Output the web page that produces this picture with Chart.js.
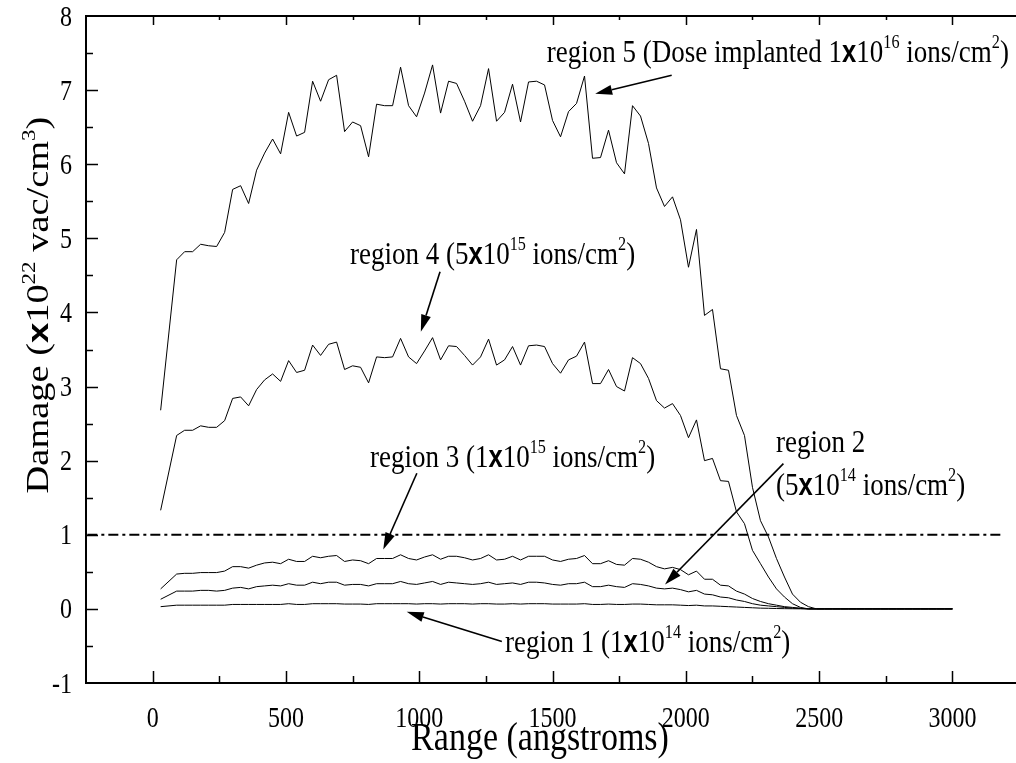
<!DOCTYPE html>
<html>
<head>
<meta charset="utf-8">
<script src="https://cdn.jsdelivr.net/npm/chart.js@4.4.0/dist/chart.umd.min.js"></script>
<style>
  html, body { margin: 0; padding: 0; background: #fff; overflow: hidden; }
  #wrap { width: 1040px; height: 763px; }
</style>
</head>
<body>
<div id="wrap"><canvas id="myChart" width="1040" height="763"></canvas></div>
<script>
// depth in angstroms (x values shared by every region)
const depth = [
  30, 90, 120, 150, 180, 210, 240, 270, 300, 330,
  360, 390, 420, 450, 480, 510, 540, 570, 600, 630,
  660, 690, 720, 750, 780, 810, 840, 870, 900, 930,
  960, 990, 1020, 1050, 1080, 1110, 1140, 1170, 1200, 1230,
  1260, 1290, 1320, 1350, 1380, 1410, 1440, 1470, 1500, 1530,
  1560, 1590, 1620, 1650, 1680, 1710, 1740, 1770, 1800, 1830,
  1860, 1890, 1920, 1950, 1980, 2010, 2040, 2070, 2100, 2130,
  2160, 2190, 2220, 2250, 2280, 2310, 2340, 2370, 2400, 2430,
  2460, 2490, 2520, 2550, 2580, 2610, 2640, 2670, 2700, 2730,
  2760, 2790, 2820, 2850, 2880, 2910, 2940, 2970, 3000
];

// damage, x10^22 vac/cm^3
const region5 = [
  2.68, 4.71, 4.82, 4.82, 4.92, 4.90, 4.89, 5.08, 5.66, 5.71,
  5.47, 5.92, 6.15, 6.34, 6.14, 6.70, 6.38, 6.43, 7.12, 6.85,
  7.14, 7.20, 6.44, 6.57, 6.52, 6.10, 6.81, 6.79, 6.79, 7.31,
  6.79, 6.64, 6.96, 7.34, 6.69, 7.12, 7.09, 6.85, 6.58, 6.79,
  7.29, 6.58, 6.70, 7.08, 6.57, 7.11, 7.12, 7.07, 6.59, 6.37,
  6.71, 6.82, 7.19, 6.08, 6.09, 6.46, 6.02, 5.87, 6.79, 6.65,
  6.28, 5.68, 5.43, 5.56, 5.25, 4.61, 5.12, 3.96, 4.04, 3.24,
  3.22, 2.61, 2.34, 1.64, 1.19, 0.97, 0.68, 0.43, 0.20, 0.09,
  0.03, 0, 0, 0, 0, 0, 0, 0, 0, 0,
  0, 0, 0, 0, 0, 0, 0, 0, 0
];
const region4 = [
  1.33, 2.34, 2.41, 2.41, 2.47, 2.45, 2.45, 2.54, 2.84, 2.86,
  2.74, 2.96, 3.09, 3.17, 3.07, 3.35, 3.19, 3.22, 3.56, 3.42,
  3.57, 3.60, 3.23, 3.28, 3.26, 3.05, 3.40, 3.39, 3.40, 3.65,
  3.40, 3.31, 3.48, 3.66, 3.36, 3.55, 3.54, 3.42, 3.29, 3.40,
  3.64, 3.29, 3.36, 3.54, 3.29, 3.55, 3.56, 3.54, 3.31, 3.18,
  3.36, 3.41, 3.60, 3.04, 3.04, 3.23, 3.00, 2.94, 3.39, 3.31,
  3.11, 2.81, 2.71, 2.77, 2.61, 2.31, 2.55, 2.00, 2.03, 1.73,
  1.72, 1.31, 1.15, 0.79, 0.61, 0.43, 0.27, 0.16, 0.07, 0.02,
  0, 0, 0, 0, 0, 0, 0, 0, 0, 0,
  0, 0, 0, 0, 0, 0, 0, 0, 0
];
const region3 = [
  0.27, 0.47, 0.48, 0.48, 0.49, 0.49, 0.49, 0.51, 0.57, 0.57,
  0.55, 0.59, 0.62, 0.63, 0.61, 0.67, 0.64, 0.64, 0.71, 0.69,
  0.71, 0.72, 0.64, 0.66, 0.65, 0.61, 0.68, 0.68, 0.68, 0.73,
  0.68, 0.66, 0.70, 0.73, 0.67, 0.71, 0.71, 0.69, 0.66, 0.68,
  0.73, 0.66, 0.67, 0.71, 0.66, 0.71, 0.71, 0.71, 0.66, 0.64,
  0.67, 0.68, 0.72, 0.61, 0.61, 0.65, 0.60, 0.59, 0.68, 0.67,
  0.63, 0.57, 0.54, 0.56, 0.53, 0.46, 0.51, 0.40, 0.40, 0.32,
  0.31, 0.24, 0.20, 0.14, 0.10, 0.07, 0.05, 0.03, 0.02, 0.01,
  0, 0, 0, 0, 0, 0, 0, 0, 0, 0,
  0, 0, 0, 0, 0, 0, 0, 0, 0
];
const region2 = [
  0.13, 0.24, 0.24, 0.24, 0.25, 0.25, 0.24, 0.25, 0.28, 0.29,
  0.27, 0.30, 0.31, 0.32, 0.31, 0.34, 0.32, 0.32, 0.36, 0.34,
  0.36, 0.36, 0.32, 0.33, 0.33, 0.31, 0.34, 0.34, 0.34, 0.37,
  0.34, 0.33, 0.35, 0.37, 0.33, 0.36, 0.35, 0.34, 0.33, 0.34,
  0.36, 0.33, 0.34, 0.35, 0.33, 0.36, 0.36, 0.35, 0.33, 0.32,
  0.34, 0.34, 0.36, 0.30, 0.30, 0.32, 0.30, 0.29, 0.34, 0.33,
  0.31, 0.28, 0.27, 0.28, 0.26, 0.23, 0.25, 0.20, 0.19, 0.16,
  0.15, 0.12, 0.10, 0.07, 0.05, 0.04, 0.03, 0.02, 0.01, 0.005,
  0, 0, 0, 0, 0, 0, 0, 0, 0, 0,
  0, 0, 0, 0, 0, 0, 0, 0, 0
];
const region1 = [
  0.03, 0.05, 0.05, 0.05, 0.05, 0.05, 0.05, 0.05, 0.06, 0.06,
  0.06, 0.06, 0.06, 0.06, 0.06, 0.07, 0.06, 0.06, 0.07, 0.07,
  0.07, 0.07, 0.065, 0.065, 0.065, 0.06, 0.07, 0.07, 0.07, 0.07,
  0.07, 0.065, 0.07, 0.07, 0.065, 0.07, 0.07, 0.07, 0.065, 0.07,
  0.07, 0.065, 0.065, 0.07, 0.065, 0.07, 0.07, 0.07, 0.065, 0.065,
  0.065, 0.065, 0.07, 0.06, 0.06, 0.065, 0.06, 0.06, 0.065, 0.065,
  0.06, 0.055, 0.055, 0.055, 0.05, 0.045, 0.05, 0.04, 0.04, 0.035,
  0.03, 0.025, 0.02, 0.015, 0.01, 0.008, 0.005, 0.003, 0.002, 0.001,
  0, 0, 0, 0, 0, 0, 0, 0, 0, 0,
  0, 0, 0, 0, 0, 0, 0, 0, 0
];

// the dash-dot level line
const levelX = [-245, 3180];
const levelY = [1, 1];

const xTicks = [0, 500, 1000, 1500, 2000, 2500, 3000];
const yTicks = [-1, 0, 1, 2, 3, 4, 5, 6, 7, 8];

const SERIF = '"Liberation Serif", "Times New Roman", serif';
const STRETCH = 1.2; // the original lettering is drawn taller than it is wide

// labels + arrows, placed in data units
const notes = [
  { text: 'region 5 (Dose implanted 1{x}10^{16} ions/cm^{2})', at: [1478, 7.38], from: [1947, 7.20], to: [1660, 6.95] },
  { text: 'region 4 (5{x}10^{15} ions/cm^{2})', at: [740, 4.66], from: [1078, 4.55], to: [1006, 3.74] },
  { text: 'region 3 (1{x}10^{15} ions/cm^{2})', at: [815, 1.92], from: [991, 1.83], to: [865, 0.80] },
  { text: 'region 2', at: [2338, 2.12] },
  { text: '(5{x}10^{14} ions/cm^{2})', at: [2338, 1.54], from: [2366, 1.96], to: [1922, 0.33] },
  { text: 'region 1 (1{x}10^{14} ions/cm^{2})', at: [1322, -0.58], from: [1310, -0.44], to: [953, -0.04] }
];

let pts = (ys) => depth.map((d, i) => ({ x: d, y: ys[i] }));

// draws "1{x}10^{16}" style text at (x, y), returns its width
let richText = (ctx, str, x, y, size, draw = true) => {
  const parts = str.split(/(\^\{[^}]*\}|\{x\})/).filter(s => s.length);
  let cx = x;
  for (const p of parts) {
    let t = p, dy = 0;
    if (p === '{x}') {
      t = 'x';
      ctx.font = `bold ${size * 0.95}px "Liberation Sans", Arial, sans-serif`;
    } else if (p.startsWith('^{')) {
      t = p.slice(2, -1);
      ctx.font = `${size * 0.6}px ${SERIF}`;
      dy = -size * 0.42;
    } else {
      ctx.font = `${size}px ${SERIF}`;
    }
    if (draw) ctx.fillText(t, cx, y + dy);
    cx += ctx.measureText(t).width;
  }
  return cx - x;
};

// same, but stretched vertically around the baseline
let tallText = (ctx, str, x, y, size) => {
  ctx.save();
  ctx.translate(x, y);
  ctx.scale(1, STRETCH);
  richText(ctx, str, 0, 0, size);
  ctx.restore();
};

let arrow = (ctx, x1, y1, x2, y2) => {
  const ang = Math.atan2(y2 - y1, x2 - x1);
  const len = 17, half = 5;
  const bx = x2 - len * Math.cos(ang), by = y2 - len * Math.sin(ang);
  ctx.beginPath();
  ctx.moveTo(x1, y1);
  ctx.lineTo(bx, by);
  ctx.stroke();
  ctx.beginPath();
  ctx.moveTo(x2, y2);
  ctx.lineTo(bx + half * Math.sin(ang), by - half * Math.cos(ang));
  ctx.lineTo(bx - half * Math.sin(ang), by + half * Math.cos(ang));
  ctx.closePath();
  ctx.fill();
};

// tick labels taken from the chart's own scales, drawn tall
let tickLabels = (ctx, scale, horizontal) => {
  const size = 24;
  ctx.font = `${size}px ${SERIF}`;
  ctx.textBaseline = 'alphabetic';
  ctx.textAlign = horizontal ? 'center' : 'right';
  scale.ticks.forEach((t, i) => {
    const p = scale.getPixelForTick(i);
    ctx.save();
    if (horizontal) ctx.translate(p, 717);
    else ctx.translate(72, p);
    ctx.scale(1, STRETCH);
    ctx.fillText(String(t.value), 0, size * 0.33);
    ctx.restore();
  });
};

const framePlugin = {
  id: 'frame',
  afterDatasetsDraw(chart) {
    const { ctx, chartArea: a, scales: { x, y } } = chart;
    ctx.save();
    ctx.strokeStyle = '#000';
    ctx.lineWidth = 2;
    ctx.strokeRect(a.left, a.top, a.right - a.left, a.bottom - a.top);

    // inward ticks, majors and minors
    ctx.lineWidth = 1.5;
    ctx.beginPath();
    for (let v = 0; v <= 3000; v += 250) {
      const px = Math.round(x.getPixelForValue(v)) + 0.5;
      const len = v % 500 === 0 ? 12 : 7;
      ctx.moveTo(px, a.bottom); ctx.lineTo(px, a.bottom - len);
      ctx.moveTo(px, a.top); ctx.lineTo(px, a.top + len - 3);
    }
    for (let v = -0.5; v < 8; v += 0.5) {
      const py = Math.round(y.getPixelForValue(v)) + 0.5;
      const len = Number.isInteger(v) ? 12 : 7;
      ctx.moveTo(a.left, py); ctx.lineTo(a.left + len, py);
    }
    ctx.stroke();
    ctx.restore();
  },
  afterDraw(chart) {
    const { ctx, scales: { x, y } } = chart;
    ctx.save();
    ctx.fillStyle = '#000';
    ctx.strokeStyle = '#000';

    tickLabels(ctx, x, true);
    tickLabels(ctx, y, false);

    ctx.textAlign = 'left';
    ctx.textBaseline = 'alphabetic';

    // axis titles
    const xt = 'Range (angstroms)';
    let w = richText(ctx, xt, 0, 0, 34, false);
    tallText(ctx, xt, 540 - w / 2, 750, 34);

    ctx.save();
    ctx.translate(48, 305);
    ctx.rotate(-Math.PI / 2);
    ctx.scale(STRETCH, 1);
    const yt = 'Damage ({x}10^{22} vac/cm^{3})';
    w = richText(ctx, yt, 0, 0, 32, false);
    richText(ctx, yt, -w / 2, 0, 32);
    ctx.restore();

    // region labels and arrows
    ctx.lineWidth = 1.6;
    for (const n of notes) {
      tallText(ctx, n.text, x.getPixelForValue(n.at[0]), y.getPixelForValue(n.at[1]), 27);
      if (n.from) {
        arrow(ctx,
          x.getPixelForValue(n.from[0]), y.getPixelForValue(n.from[1]),
          x.getPixelForValue(n.to[0]), y.getPixelForValue(n.to[1]));
      }
    }
    ctx.restore();
  }
};

let curve = (label, ys) => ({
  label: label,
  data: pts(ys),
  borderColor: '#000',
  borderWidth: 1,
  pointRadius: 0,
  fill: false,
  tension: 0
});

const ctx = document.getElementById('myChart');
const chart = new Chart(ctx, {
  type: 'line',
  data: {
    datasets: [
      curve('region 5', region5),
      curve('region 4', region4),
      curve('region 3', region3),
      curve('region 2', region2),
      curve('region 1', region1),
      {
        label: 'level',
        data: levelX.map((v, i) => ({ x: v, y: levelY[i] })),
        borderColor: '#000',
        borderWidth: 2,
        borderDash: [10, 4, 3, 4],
        pointRadius: 0,
        fill: false
      }
    ]
  },
  options: {
    responsive: false,
    animation: false,
    layout: { padding: { left: 0, top: 16, right: 10, bottom: 0 } },
    plugins: { legend: { display: false }, tooltip: { enabled: false } },
    scales: {
      x: {
        type: 'linear',
        min: -250,
        max: 3291,
        grid: { display: false, drawTicks: false },
        border: { display: false },
        afterBuildTicks: (axis) => { axis.ticks = xTicks.map(v => ({ value: v })); },
        afterFit: (axis) => { axis.height = 80; },
        ticks: { display: false }
      },
      y: {
        type: 'linear',
        min: -1,
        max: 8,
        grid: { display: false, drawTicks: false },
        border: { display: false },
        afterBuildTicks: (axis) => { axis.ticks = yTicks.map(v => ({ value: v })); },
        afterFit: (axis) => { axis.width = 86; },
        ticks: { display: false }
      }
    }
  },
  plugins: [framePlugin]
});
</script>
</body>
</html>
